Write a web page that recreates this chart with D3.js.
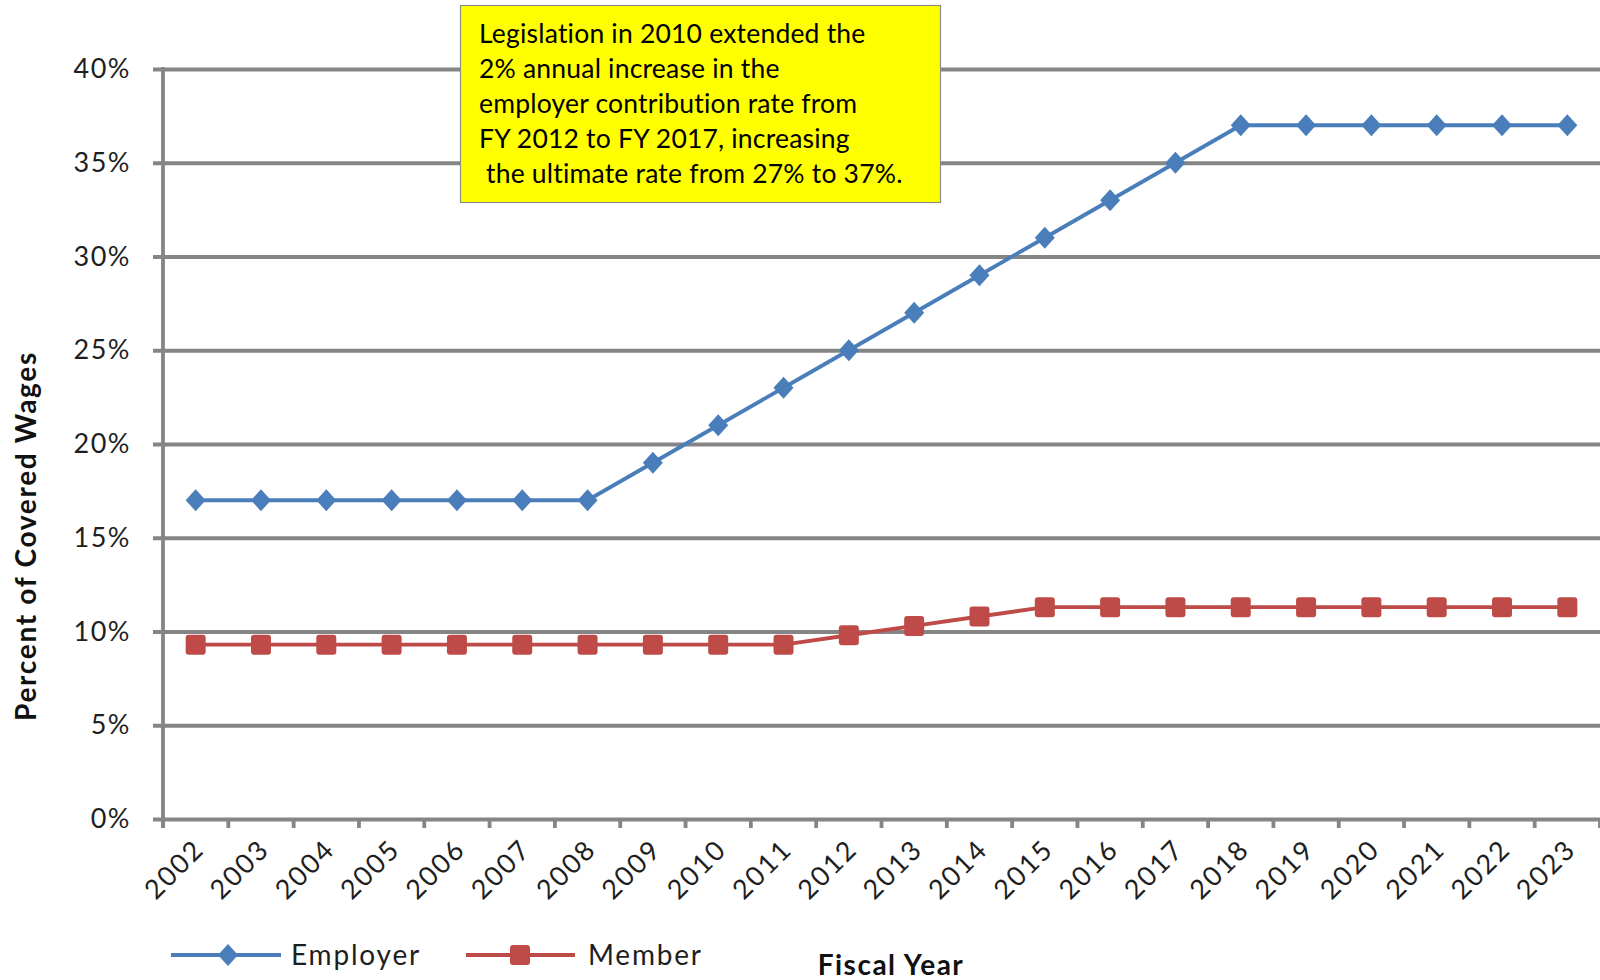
<!DOCTYPE html>
<html>
<head>
<meta charset="utf-8">
<script src="https://cdn.jsdelivr.net/npm/d3@7"></script>
<style>
  html, body { margin: 0; padding: 0; background: #ffffff; }
  svg { display: block; font-family: Lato, "Open Sans", sans-serif; }
</style>
</head>
<body>
<svg id="chart" width="1600" height="980"></svg>
<script>
// Contribution rates as a percent of covered wages, by fiscal year
const years = ["2002","2003","2004","2005","2006","2007","2008","2009","2010","2011","2012",
               "2013","2014","2015","2016","2017","2018","2019","2020","2021","2022","2023"];
const employerRates = [17,17,17,17,17,17,17,19,21,23,25,27,29,31,33,35,37,37,37,37,37,37];
const memberRates = [9.3,9.3,9.3,9.3,9.3,9.3,9.3,9.3,9.3,9.3,9.8,10.3,10.8,11.3,11.3,11.3,11.3,11.3,11.3,11.3,11.3,11.3];
const yTicks = [0,5,10,15,20,25,30,35,40];
const seriesNames = ["Employer","Member"];
const noteLines = [
  "Legislation in 2010 extended the",
  "2% annual increase in the",
  "employer contribution rate from",
  "FY 2012 to FY 2017, increasing",
  "\u00a0the ultimate rate from 27% to 37%."
];

const svg = d3.select("#chart");
const plotLeft = 163, plotRight = 1600, plotTop = 69, plotBottom = 819;
const gridColor = "#858585";
const gridWidth = 3.8, seriesWidth = 3.8;
const blue = "#4A7EBB", red = "#BE4B48";
const textColor = "#1e1e1e";

const x = d3.scaleBand().domain(years).range([plotLeft, plotRight]).padding(0);
const y = d3.scaleLinear().domain([0, 40]).range([plotBottom, plotTop]);

// horizontal gridlines with outward ticks
const yAxis = d3.axisLeft(y).tickValues(yTicks).tickFormat(d => d + "%")
  .tickSize(-(plotRight - plotLeft)).tickPadding(22);
const gy = svg.append("g").attr("transform", `translate(${plotLeft},0)`).call(yAxis);
gy.select(".domain").remove();
gy.selectAll(".tick line").attr("stroke", gridColor).attr("stroke-width", gridWidth).attr("x1", -10);
gy.selectAll(".tick text").attr("fill", textColor).attr("font-size", 27)
  .attr("letter-spacing", 1.5)
  .attr("font-family", "Lato, sans-serif").attr("x", -32);

// x axis: category ticks and slanted year labels
const xAxis = d3.axisBottom(x).tickSize(0).tickFormat(d => d);
const gx = svg.append("g").attr("transform", `translate(0,${plotBottom})`).call(xAxis);
gx.select(".domain").remove();
gx.selectAll(".tick text")
  .attr("fill", textColor).attr("font-size", 27).attr("letter-spacing", 2)
  .attr("font-family", "Lato, sans-serif")
  .attr("text-anchor", "end").attr("dy", 0)
  .attr("transform", "translate(8,30) rotate(-45)");
const boundaries = d3.range(years.length + 1).map(i => plotLeft + i * x.bandwidth());
svg.append("g").selectAll("line").data(boundaries).join("line")
  .attr("x1", d => d).attr("x2", d => d).attr("y1", plotBottom).attr("y2", plotBottom + 9)
  .attr("stroke", gridColor).attr("stroke-width", gridWidth);

// vertical axis line
svg.append("line").attr("x1", plotLeft).attr("x2", plotLeft).attr("y1", plotTop - 1.9).attr("y2", plotBottom + 9)
  .attr("stroke", gridColor).attr("stroke-width", gridWidth);

const cx = d => x(d) + x.bandwidth() / 2;
const line = d3.line().x(d => cx(d.year)).y(d => y(d.value));
const employer = years.map((yr, i) => ({ year: yr, value: employerRates[i] }));
const member = years.map((yr, i) => ({ year: yr, value: memberRates[i] }));

// marker shapes: slightly tall diamond and a rounded square
const tallDiamond = {
  draw(ctx) { ctx.moveTo(0, -11); ctx.lineTo(10, 0); ctx.lineTo(0, 11); ctx.lineTo(-10, 0); ctx.closePath(); }
};
const diamond = d3.symbol().type(tallDiamond);
const sq = 20;

// Member series: red line with square markers
svg.append("path").datum(member).attr("d", line)
  .attr("fill", "none").attr("stroke", red).attr("stroke-width", seriesWidth);
svg.append("g").selectAll("rect").data(member).join("rect")
  .attr("x", d => cx(d.year) - sq / 2).attr("y", d => y(d.value) - sq / 2)
  .attr("width", sq).attr("height", sq).attr("rx", 3).attr("fill", red);

// Employer series: blue line with diamond markers
svg.append("path").datum(employer).attr("d", line)
  .attr("fill", "none").attr("stroke", blue).attr("stroke-width", seriesWidth);
svg.append("g").selectAll("path").data(employer).join("path")
  .attr("d", diamond)
  .attr("transform", d => `translate(${cx(d.year)},${y(d.value)})`)
  .attr("fill", blue);

// note box
const note = svg.append("g");
note.append("rect").attr("x", 460.5).attr("y", 5.5).attr("width", 480).attr("height", 197)
  .attr("fill", "#FFFF00").attr("stroke", "#8c8c8c").attr("stroke-width", 1.2);
note.append("text").attr("font-size", 26.5).attr("letter-spacing", 0.2)
  .attr("fill", "#000").attr("font-family", "Lato, sans-serif")
  .selectAll("tspan").data(noteLines).join("tspan")
  .attr("x", 479).attr("y", (d, i) => 43 + i * 35).text(d => d);

// y-axis title
svg.append("text").attr("transform", "translate(36,536) rotate(-90)")
  .attr("text-anchor", "middle").attr("font-size", 28).attr("font-weight", "bold")
  .attr("letter-spacing", 1.7)
  .attr("fill", "#111").text("Percent of Covered Wages");

// x-axis title
svg.append("text").attr("x", 891).attr("y", 975).attr("text-anchor", "middle")
  .attr("font-size", 28).attr("font-weight", "bold").attr("letter-spacing", 1.5)
  .attr("fill", "#111").text("Fiscal Year");

// legend
const legend = svg.append("g");
const legendY = 955;
const items = [
  { name: seriesNames[0], color: blue, x0: 171, x1: 281, mx: 228, text: 291 },
  { name: seriesNames[1], color: red, x0: 466, x1: 575, mx: 520, text: 588 }
];
items.forEach((it, i) => {
  legend.append("line").attr("x1", it.x0).attr("x2", it.x1).attr("y1", legendY).attr("y2", legendY)
    .attr("stroke", it.color).attr("stroke-width", seriesWidth);
  if (i === 0) {
    legend.append("path").attr("d", diamond).attr("transform", `translate(${it.mx},${legendY})`).attr("fill", it.color);
  } else {
    legend.append("rect").attr("x", it.mx - sq / 2).attr("y", legendY - sq / 2).attr("width", sq).attr("height", sq)
      .attr("rx", 3).attr("fill", it.color);
  }
  legend.append("text").attr("x", it.text).attr("y", legendY + 10).attr("font-size", 28)
    .attr("letter-spacing", 1.8)
    .attr("fill", textColor).text(it.name);
});
</script>
</body>
</html>
